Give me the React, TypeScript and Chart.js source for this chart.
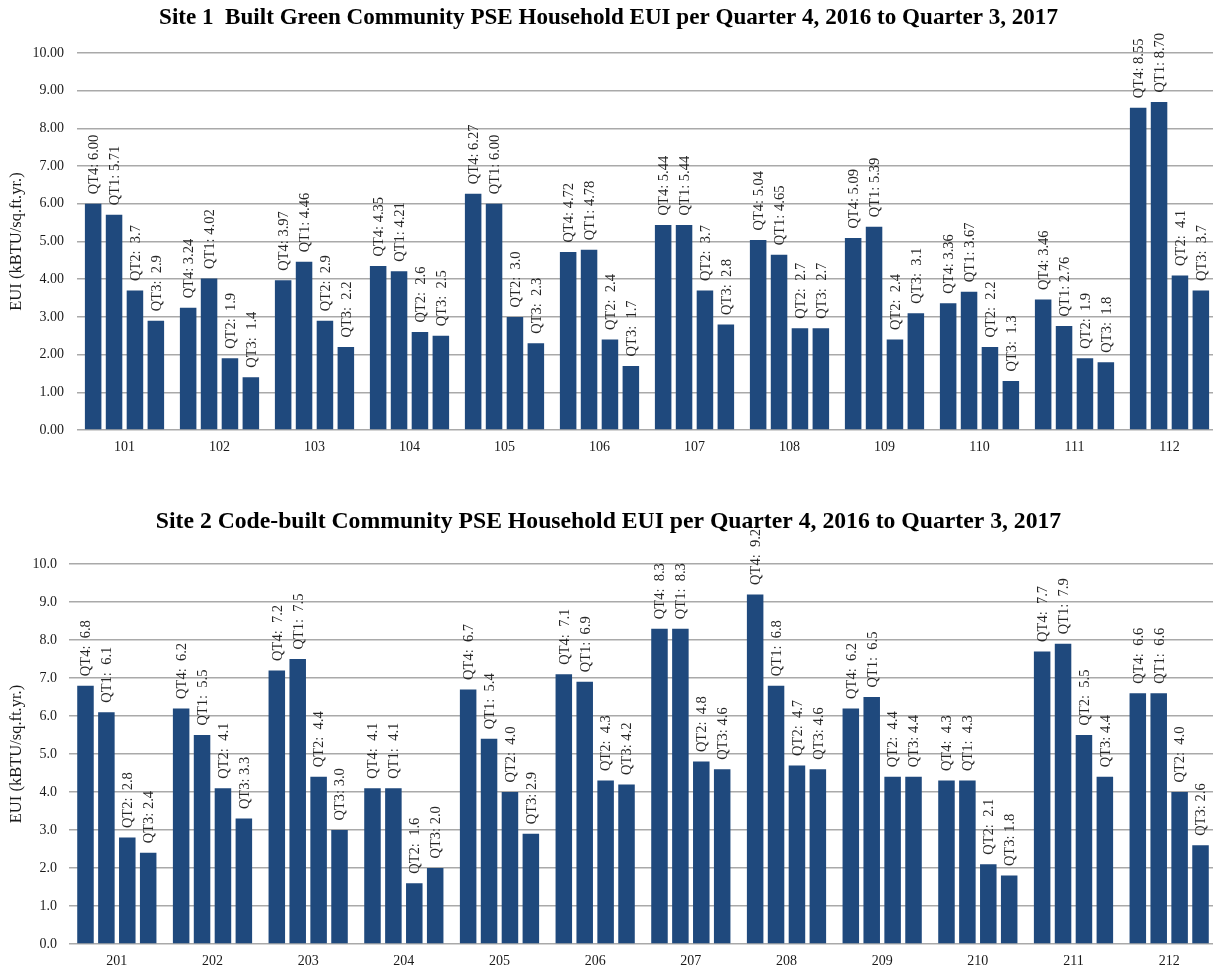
import React, { useEffect, useRef } from "react";
import { Chart, registerables } from "chart.js";

Chart.register(...registerables);

const SERIF = '"Liberation Serif", "Times New Roman", Times, serif';
const BAR_COLOR = "#1f497d";
const GRID_COLOR = "#a9a9a9";
const TEXT_COLOR = "#1a1a1a";
const LABEL_COLOR = "#262626";

// Quarter order used for the four bars in each household group
const quarterNames = ["QT4", "QT1", "QT2", "QT3"];

// Site 1 – Built Green community, EUI (kBTU/sq.ft.yr.)
const site1Homes = ["101", "102", "103", "104", "105", "106", "107", "108", "109", "110", "111", "112"];
const site1QT4 = [6.0, 3.24, 3.97, 4.35, 6.27, 4.72, 5.44, 5.04, 5.09, 3.36, 3.46, 8.55];
const site1QT1 = [5.71, 4.02, 4.46, 4.21, 6.0, 4.78, 5.44, 4.65, 5.39, 3.67, 2.76, 8.7];
const site1QT2 = [3.7, 1.9, 2.9, 2.6, 3.0, 2.4, 3.7, 2.7, 2.4, 2.2, 1.9, 4.1];
const site1QT3 = [2.9, 1.4, 2.2, 2.5, 2.3, 1.7, 2.8, 2.7, 3.1, 1.3, 1.8, 3.7];
const site1LabelDecimals = [2, 2, 1, 1];
const site1LabelGaps = [" ", " ", "  ", "  "];

// Site 2 – Code-built community, EUI (kBTU/sq.ft.yr.)
const site2Homes = ["201", "202", "203", "204", "205", "206", "207", "208", "209", "210", "211", "212"];
const site2QT4 = [6.8, 6.2, 7.2, 4.1, 6.7, 7.1, 8.3, 9.2, 6.2, 4.3, 7.7, 6.6];
const site2QT1 = [6.1, 5.5, 7.5, 4.1, 5.4, 6.9, 8.3, 6.8, 6.5, 4.3, 7.9, 6.6];
const site2QT2 = [2.8, 4.1, 4.4, 1.6, 4.0, 4.3, 4.8, 4.7, 4.4, 2.1, 5.5, 4.0];
const site2QT3 = [2.4, 3.3, 3.0, 2.0, 2.9, 4.2, 4.6, 4.6, 4.4, 1.8, 4.4, 2.6];
const site2LabelDecimals = [1, 1, 1, 1];
const site2LabelGaps = ["  ", "  ", "  ", " "];

// Shared value axis
const yMin = 0;
const yMax = 10;
const yStep = 1;
const yTitle = "EUI (kBTU/sq.ft.yr.)";

const site1Title = "Site 1  Built Green Community PSE Household EUI per Quarter 4, 2016 to Quarter 3, 2017";
const site2Title = "Site 2 Code-built Community PSE Household EUI per Quarter 4, 2016 to Quarter 3, 2017";

// Vertical "QTn: value" labels drawn above every bar
function makeValueLabels(decimals: number[], gaps: string[]) {
  return {
    id: "valueLabels",
    afterDatasetsDraw(chart: any) {
      const ctx = chart.ctx as CanvasRenderingContext2D;
      ctx.save();
      ctx.font = `14.5px ${SERIF}`;
      ctx.fillStyle = LABEL_COLOR;
      ctx.textAlign = "left";
      ctx.textBaseline = "middle";
      chart.data.datasets.forEach((ds: any, i: number) => {
        const meta = chart.getDatasetMeta(i);
        meta.data.forEach((bar: any, j: number) => {
          const v = ds.data[j] as number;
          const text = `${ds.label}:${gaps[i]}${v.toFixed(decimals[i])}`;
          ctx.save();
          ctx.translate(bar.x + 1, bar.y - 9.5);
          ctx.rotate(-Math.PI / 2);
          ctx.fillText(text, 0, 0);
          ctx.restore();
        });
      });
      ctx.restore();
    },
  };
}

type SiteProps = {
  title: string;
  titleSize: number;
  homes: string[];
  series: number[][];
  decimals: number[];
  gaps: string[];
  tickDecimals: number;
  top: number;
  height: number;
  yWidth: number;
  tickPad: number;
  titleTop: number;
  titleBottom: number;
  xHeight: number;
  padBottom: number;
  catPct: number;
};

const CANVAS_WIDTH = 1217;

function SiteChart(p: SiteProps) {
  const ref = useRef<HTMLCanvasElement>(null);

  useEffect(() => {
    const canvas = ref.current;
    if (!canvas) return;
    const font = { family: SERIF, size: 14 };
    const chart = new Chart(canvas, {
      type: "bar",
      data: {
        labels: p.homes,
        datasets: quarterNames.map((q, i) => ({
          label: q,
          data: p.series[i],
          backgroundColor: BAR_COLOR,
          borderWidth: 0,
          categoryPercentage: p.catPct,
          barPercentage: 0.79,
        })),
      },
      options: {
        responsive: false,
        animation: false,
        devicePixelRatio: 1,
        layout: { padding: { top: 0, left: 0, right: 0, bottom: p.padBottom } },
        plugins: {
          legend: { display: false },
          tooltip: { enabled: false },
          title: {
            display: true,
            text: p.title,
            color: "#000000",
            font: { family: SERIF, size: p.titleSize, weight: "bold", lineHeight: 1.2 },
            padding: { top: p.titleTop, bottom: p.titleBottom },
          },
        },
        scales: {
          x: {
            grid: { display: false, drawTicks: false },
            border: { display: false },
            ticks: { color: TEXT_COLOR, font, padding: 9 },
            afterFit: (s: any) => {
              s.height = p.xHeight;
            },
          },
          y: {
            min: yMin,
            max: yMax,
            ticks: {
              stepSize: yStep,
              color: TEXT_COLOR,
              font,
              padding: p.tickPad,
              callback: (v: any) => Number(v).toFixed(p.tickDecimals),
            },
            grid: { color: GRID_COLOR, lineWidth: 1.5, drawTicks: false },
            border: { display: false },
            title: {
              display: true,
              text: yTitle,
              color: TEXT_COLOR,
              font: { family: SERIF, size: 16.5 },
              padding: { top: 7, bottom: 0 },
            },
            afterFit: (s: any) => {
              s.width = p.yWidth;
            },
          },
        },
      } as any,
      plugins: [makeValueLabels(p.decimals, p.gaps)],
    });
    return () => chart.destroy();
  }, []);

  return (
    <canvas
      ref={ref}
      width={CANVAS_WIDTH}
      height={p.height}
      style={{ position: "absolute", left: 0, top: p.top, width: CANVAS_WIDTH, height: p.height }}
    />
  );
}

export default function App() {
  return (
    <div
      style={{
        position: "fixed",
        left: 0,
        top: 0,
        width: 1213,
        height: 973,
        overflow: "hidden",
        background: "#ffffff",
      }}
    >
      <SiteChart
        title={site1Title}
        titleSize={23.1}
        homes={site1Homes}
        series={[site1QT4, site1QT1, site1QT2, site1QT3]}
        decimals={site1LabelDecimals}
        gaps={site1LabelGaps}
        tickDecimals={2}
        top={0}
        height={470}
        yWidth={77}
        tickPad={13}
        titleTop={4.1}
        titleBottom={21.2}
        xHeight={30}
        padBottom={10}
        catPct={0.88}
      />
      <SiteChart
        title={site2Title}
        titleSize={23.7}
        homes={site2Homes}
        series={[site2QT4, site2QT1, site2QT2, site2QT3]}
        decimals={site2LabelDecimals}
        gaps={site2LabelGaps}
        tickDecimals={1}
        top={470}
        height={503}
        yWidth={69}
        tickPad={12}
        titleTop={37.8}
        titleBottom={27.8}
        xHeight={25}
        padBottom={4}
        catPct={0.874}
      />
    </div>
  );
}
